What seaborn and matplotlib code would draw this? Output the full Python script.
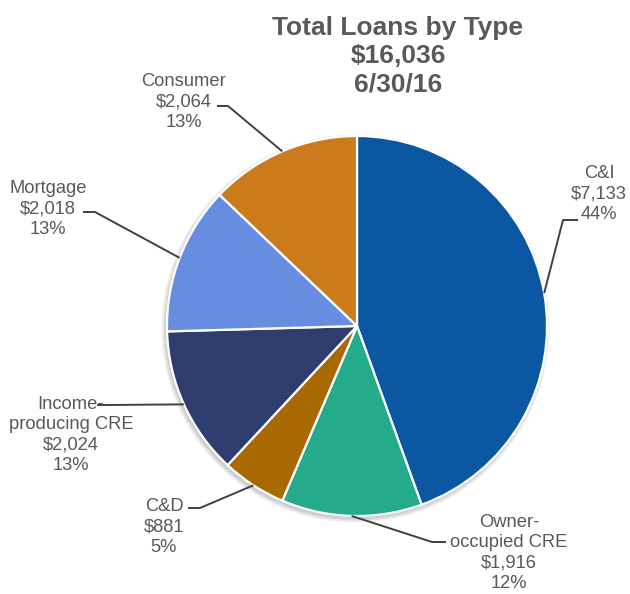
import numpy as np
import matplotlib
matplotlib.use("Agg")
import matplotlib.pyplot as plt
from matplotlib.patches import Circle
import seaborn as sns

# Loan balances ($ millions) as of 6/30/16, in clockwise order from 12 o'clock
categories = ["C&I", "Owner-\noccupied CRE", "C&D", "Income-\nproducing CRE", "Mortgage", "Consumer"]
balances = [7133, 1916, 881, 2024, 2018, 2064]
colors = ["#0C57A2", "#24AB8B", "#A86903", "#2E3C6E", "#678DE1", "#CA7C1C"]
title_lines = ["Total Loans by Type", "$16,036", "6/30/16"]

W, H = 630, 594
sns.set_theme(style="white")
plt.rcParams["font.family"] = ["Liberation Sans", "DejaVu Sans"]

fig = plt.figure(figsize=(W / 100, H / 100), dpi=100)
ax = fig.add_axes([0, 0, 1, 1])
ax.set_xlim(0, W)
ax.set_ylim(0, H)
ax.axis("off")


def px(x, y):
    """Top-left pixel position -> axes data coordinates."""
    return x, H - y


center = px(357, 326)
radius = 190

# soft drop shadow under the pie
for k, a in enumerate([0.05, 0.05, 0.05, 0.06]):
    ax.add_patch(Circle((center[0] - 1.5, center[1] - 2.5), radius + 4 - k * 1.2,
                        facecolor="#000000", alpha=a, edgecolor="none", zorder=0))

wedges, _ = ax.pie(balances, colors=colors, startangle=90, counterclock=False,
                   center=center, radius=radius,
                   wedgeprops=dict(edgecolor="white", linewidth=1.6))
ax.set_xlim(0, W)
ax.set_ylim(0, H)
ax.set_aspect("equal")

total = sum(balances)
text_color = "#595959"
line_color = "#404040"

# label layout: text anchor (center x, last-line baseline), elbow point, stub end
label_layout = [
    dict(text=(599, 219), elbow=(563, 220), stub=(578, 220)),
    dict(text=(509, 588), elbow=(432, 542), stub=(446, 542)),
    dict(text=(164, 552), elbow=(200, 508), stub=(188, 508)),
    dict(text=(71, 470), elbow=(110, 405), stub=(97, 405)),
    dict(text=(48, 234), elbow=(95, 212), stub=(83, 212)),
    dict(text=(184, 127), elbow=(228, 106), stub=(217, 106)),
]

for w, name, val, lay in zip(wedges, categories, balances, label_layout):
    mid = np.deg2rad((w.theta1 + w.theta2) / 2)
    edge = (center[0] + radius * np.cos(mid), center[1] + radius * np.sin(mid))
    ex, ey = px(*lay["elbow"])
    sx, sy = px(*lay["stub"])
    ax.plot([edge[0], ex, sx], [edge[1], ey, sy], color=line_color, lw=1.4,
            solid_capstyle="butt", zorder=3)
    pct = round(100 * val / total)
    tx, ty = px(*lay["text"])
    ax.text(tx, ty, f"{name}\n${val:,}\n{pct}%", ha="center", va="baseline",
            multialignment="center", fontsize=13.2, color=text_color,
            linespacing=1.26, zorder=4)

tx, ty = px(398, 92)
ax.text(tx, ty, "\n".join(title_lines), ha="center", va="baseline",
        multialignment="center", fontsize=19, fontweight="bold",
        color=text_color, linespacing=1.25)

fig.savefig("out.png", dpi=100, facecolor="white")
